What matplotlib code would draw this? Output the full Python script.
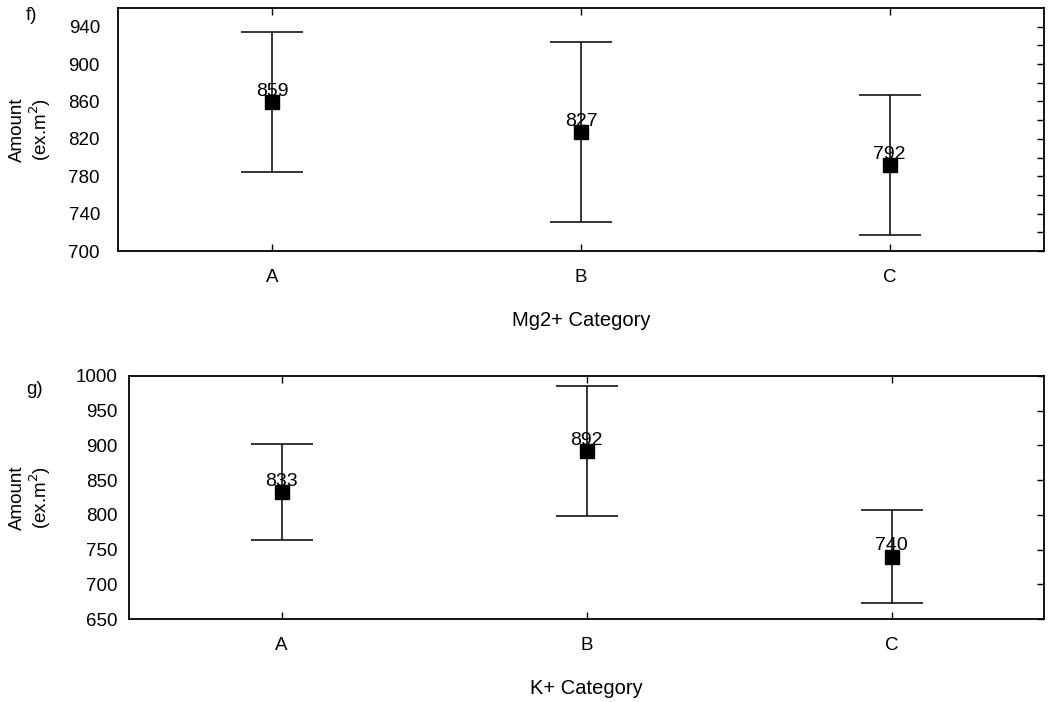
import matplotlib
matplotlib.use("Agg")
import matplotlib.pyplot as plt
from matplotlib.ticker import FixedLocator

plt.rcParams['font.family'] = ['Liberation Sans', 'DejaVu Sans']

categories = ["A", "B", "C"]

# Panel f: Mg2+ categories
mg_means = [859, 827, 792]
mg_err = [75, 96.5, 75]
mg_yticks = [700, 740, 780, 820, 860, 900, 940]

# Panel g: K+ categories
k_means = [833, 892, 740]
k_err = [69.5, 93, 67]
k_yticks = [650, 700, 750, 800, 850, 900, 950, 1000]

fig = plt.figure(figsize=(10.48, 7.02), dpi=100)
W, H = 1048, 702
FS = 13.5
FS_LAB = 14.5
FS_VAL = 14


def panel(rect_px, means, errs, ylim, yticks, xlabel, tag, tag_xy, ylab_x, ypad):
    l, t, r, b = rect_px
    ax = fig.add_axes([l / W, 1 - b / H, (r - l) / W, (b - t) / H])
    x = list(range(len(categories)))
    ax.errorbar(x, means, yerr=errs, fmt='s', color='black', ms=9.5,
                ecolor='black', elinewidth=1.1, capsize=22, capthick=1.1)
    for xi, m in zip(x, means):
        ax.annotate(str(m), (xi, m), xytext=(0, 1.5), textcoords='offset points',
                    ha='center', va='bottom', fontsize=FS_VAL)
    ax.set_xlim(-0.5, 2.5)
    ax.set_ylim(*ylim)
    ax.set_xticks(x)
    ax.set_xticklabels(categories, fontsize=FS)
    ax.yaxis.set_major_locator(FixedLocator(yticks))
    ax.tick_params(axis='y', which='both', left=False, right=True,
                   direction='in', length=5, width=1, labelsize=FS, pad=ypad)
    ax.tick_params(axis='x', top=True, bottom=True, direction='in',
                   length=5, width=1, pad=13)
    ax.set_xlabel(xlabel, fontsize=FS_LAB, labelpad=18)
    for s in ax.spines.values():
        s.set_linewidth(1.3)
    fig.text(tag_xy[0] / W, 1 - tag_xy[1] / H, tag, fontsize=FS,
             ha='center', va='center')
    fig.text(ylab_x / W, 1 - ((t + b) / 2) / H, "Amount\n(ex.m$^2$)",
             rotation=90, ha='center', va='center', fontsize=FS,
             linespacing=1.1)
    return ax


ax1 = panel((118, 8, 1044, 251), mg_means, mg_err, (700, 960), mg_yticks,
            "Mg2+ Category", "f)", (32, 15), 31, 13)
# right-hand minor ticks every 20 on the upper panel
ax1.yaxis.set_minor_locator(FixedLocator(list(range(720, 941, 20))))
ax1.tick_params(axis='y', which='minor', right=True, left=False,
                direction='in', length=5)

ax2 = panel((129, 376, 1044, 619), k_means, k_err, (650, 1000), k_yticks,
            "K+ Category", "g)", (35, 389), 31, 8)

fig.savefig("out.png", dpi=100)
